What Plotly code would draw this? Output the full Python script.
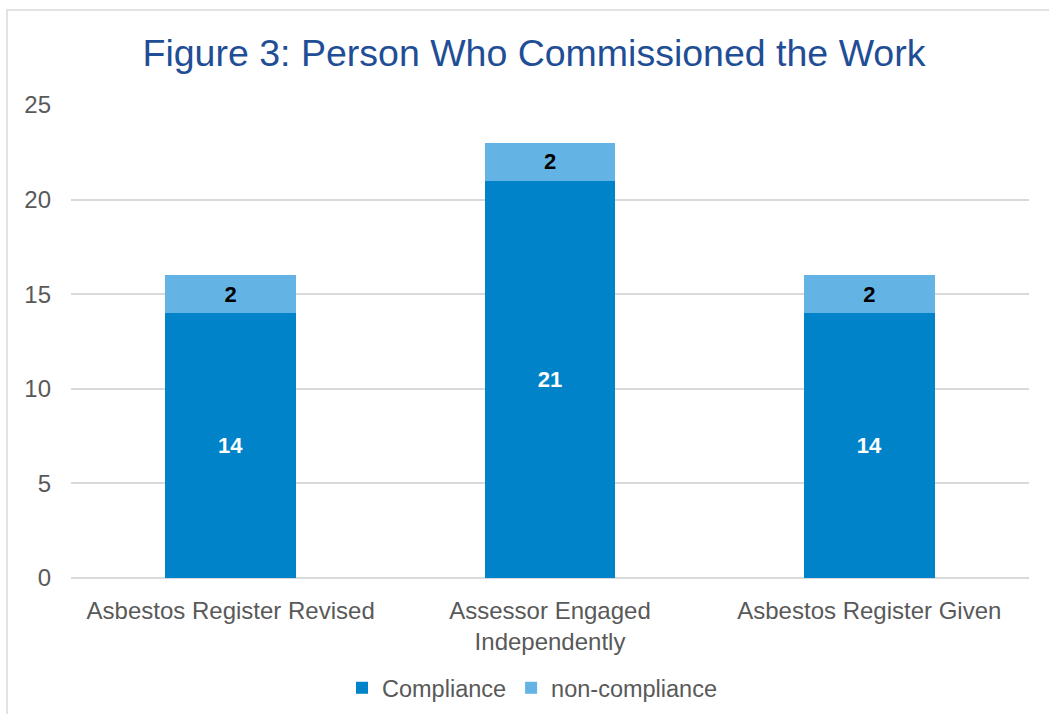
import plotly.graph_objects as go

categories = ["Asbestos Register Revised", "Assessor Engaged<br>Independently", "Asbestos Register Given"]
compliance = [14, 21, 14]
non_compliance = [2, 2, 2]
y_ticks = [0, 5, 10, 15, 20, 25]

FONT = "Liberation Sans, Arial, sans-serif"
GREY = "#595959"

fig = go.Figure()
fig.add_trace(go.Bar(
    x=categories, y=compliance, name="Compliance",
    marker=dict(color="#0083C9", line=dict(width=0)),
    text=compliance, textposition="inside", insidetextanchor="middle",
    textfont=dict(family=FONT, size=22, color="white", weight="bold"),
))
fig.add_trace(go.Bar(
    x=categories, y=non_compliance, name="non-compliance",
    marker=dict(color="#63B4E4", line=dict(width=0)),
    text=non_compliance, textposition="inside", insidetextanchor="middle",
    textfont=dict(family=FONT, size=22, color="black", weight="bold"),
))

fig.update_layout(
    barmode="stack",
    bargap=0.59,
    width=1049, height=714,
    margin=dict(l=71, r=20, t=105, b=136, autoexpand=False),
    paper_bgcolor="white", plot_bgcolor="white",
    font=dict(family=FONT, size=24, color=GREY),
    title=dict(
        text="Figure 3: Person Who Commissioned the Work",
        font=dict(family=FONT, size=37.5, color="#1F4E96"),
        x=534/1049, xanchor="center", xref="container",
        y=1 - 53/714, yanchor="middle", yref="container",
    ),
    legend=dict(
        orientation="h", x=(532-71)/958, xanchor="center",
        y=(578-688)/473, yanchor="middle",
        font=dict(family=FONT, size=23.5, color=GREY),
        traceorder="normal", itemwidth=30,
    ),
    showlegend=True,
    shapes=[dict(
        type="rect", xref="paper", yref="paper",
        x0=(7-71)/958, x1=1.06, y0=-0.32, y1=(578-10)/473,
        line=dict(color="#D9D9D9", width=1.5), layer="below",
    )],
)
fig.update_xaxes(
    showgrid=False, showline=False, ticks="", automargin=False,
    ticklabelstandoff=16,
    tickfont=dict(size=24, color=GREY),
)
fig.update_yaxes(
    range=[0, 25], tickvals=y_ticks, showgrid=True, gridcolor="#D9D9D9", gridwidth=1.5,
    zeroline=True, zerolinecolor="#D9D9D9", zerolinewidth=1.5,
    showline=False, ticks="", ticklabelstandoff=19, automargin=False,
    tickfont=dict(size=24, color=GREY),
)

fig.write_html("out.html", config={"displayModeBar": False},
               post_script="document.body.style.margin='0';")
